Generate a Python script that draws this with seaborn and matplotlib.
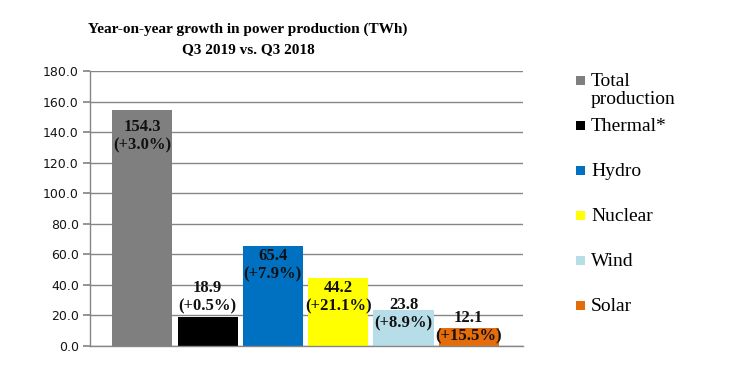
# %% Import libraries
import matplotlib
matplotlib.use('Agg')
import matplotlib.pyplot as plt
import seaborn as sns
from matplotlib.patches import Rectangle

sns.set_theme(style='white')
plt.rcParams['font.family'] = ['DejaVu Sans']

# %% Data
categories = ['Total production', 'Thermal*', 'Hydro', 'Nuclear', 'Wind', 'Solar']
legend_labels = ['Total\nproduction', 'Thermal*', 'Hydro', 'Nuclear', 'Wind', 'Solar']
production_twh = [154.3, 18.9, 65.4, 44.2, 23.8, 12.1]
growth_pct = ['+3.0%', '+0.5%', '+7.9%', '+21.1%', '+8.9%', '+15.5%']
y_ticks = [0, 20, 40, 60, 80, 100, 120, 140, 160, 180]

colors = ['#7f7f7f', '#000000', '#0070c0', '#ffff00', '#b7dde8', '#e46c0a']
# label centre offset below bar top, in pixels (negative = above)
label_offsets_px = [25.5, -19.5, 19.5, 19, 5, 0]

# %% Plot
fig = plt.figure(figsize=(7.3, 3.65), dpi=100)
ax = fig.add_axes([90 / 730, 1 - 346 / 365, 433 / 730, 275 / 365])

sns.barplot(x=categories, y=production_twh, hue=categories, palette=colors,
            width=0.92, saturation=1, legend=False, ax=ax, edgecolor='none')

ax.set_ylim(0, 180)
ax.set_xlim(-0.8, 5.83)
ax.set_yticks(y_ticks)
ax.set_yticklabels([f'{t:.1f}' for t in y_ticks], fontsize=9, color='#141414')
ax.set_xticks([])
ax.set_xlabel('')
ax.yaxis.grid(True, color='#868686', linewidth=1)
ax.set_axisbelow(True)
for side in ['top', 'right']:
    ax.spines[side].set_visible(False)
for side in ['left', 'bottom']:
    ax.spines[side].set_color('#868686')
    ax.spines[side].set_linewidth(1)
ax.tick_params(axis='y', which='major', left=True, length=5, color='#868686', pad=3)

for i, (v, g) in enumerate(zip(production_twh, growth_pct)):
    ax.annotate(f'{v:.1f}\n({g})', xy=(i, v),
                xytext=(0, -label_offsets_px[i] * 0.72), textcoords='offset points',
                ha='center', va='center', fontsize=12, fontweight='bold',
                family='Liberation Serif', color='#111111', linespacing=1.2)

# title
fig.text(248 / 730, 1 - 29 / 365, 'Year-on-year growth in power production (TWh)',
         ha='center', va='center', fontsize=11, fontweight='bold',
         family='Liberation Serif', color='#000000')
fig.text(248 / 730, 1 - 50 / 365, 'Q3 2019 vs. Q3 2018',
         ha='center', va='center', fontsize=11, fontweight='bold',
         family='Liberation Serif', color='#000000')

# legend
for i, (lab, col) in enumerate(zip(legend_labels, colors)):
    yc = 80 + i * 45
    fig.patches.append(Rectangle((576 / 730, 1 - (yc + 4.5) / 365), 9 / 730, 9 / 365,
                                 transform=fig.transFigure, facecolor=col,
                                 edgecolor='none'))
    fig.text(591 / 730, 1 - (yc - 7) / 365, lab, ha='left', va='top',
             fontsize=14, family='Liberation Serif', color='#000000',
             linespacing=1.1)

fig.savefig('out.png', dpi=100)
